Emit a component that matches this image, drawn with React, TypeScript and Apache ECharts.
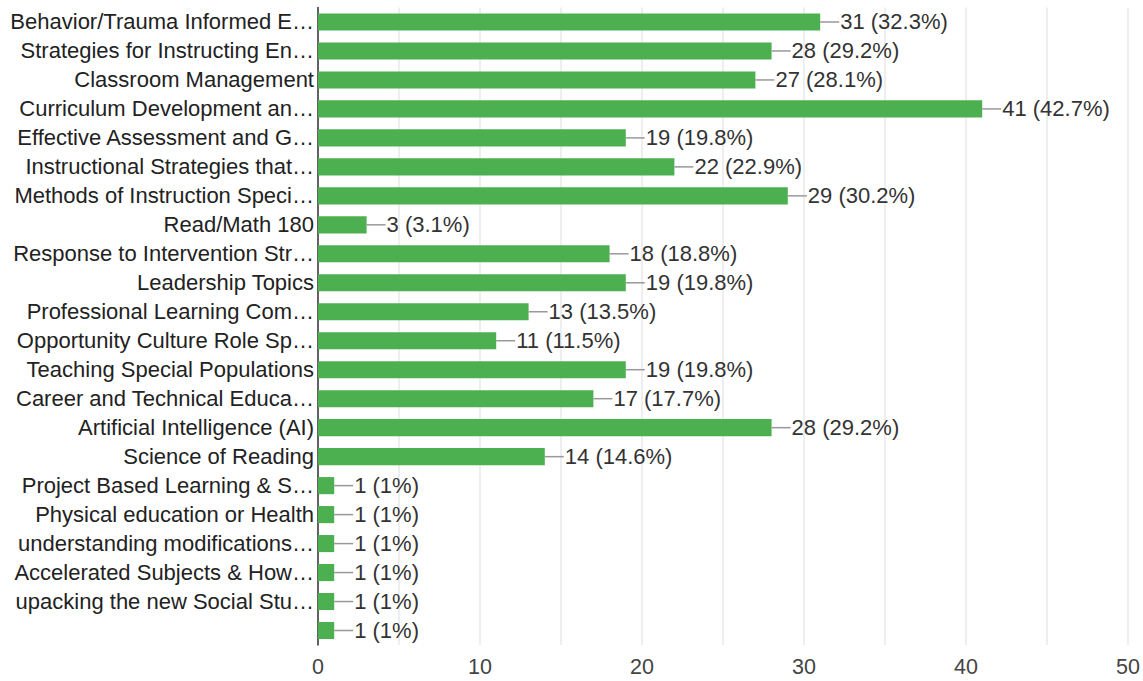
import React, { useEffect, useRef } from "react";
import * as echarts from "echarts";

const categories = [
  "Behavior/Trauma Informed E…",
  "Strategies for Instructing En…",
  "Classroom Management",
  "Curriculum Development an…",
  "Effective Assessment and G…",
  "Instructional Strategies that…",
  "Methods of Instruction Speci…",
  "Read/Math 180",
  "Response to Intervention Str…",
  "Leadership Topics",
  "Professional Learning Com…",
  "Opportunity Culture Role Sp…",
  "Teaching Special Populations",
  "Career and Technical Educa…",
  "Artificial Intelligence (AI)",
  "Science of Reading",
  "Project Based Learning & S…",
  "Physical education or Health",
  "understanding modifications…",
  "Accelerated Subjects & How…",
  "upacking the new Social Stu…",
  "",
];

const counts = [31, 28, 27, 41, 19, 22, 29, 3, 18, 19, 13, 11, 19, 17, 28, 14, 1, 1, 1, 1, 1, 1];

const percents = [
  "32.3%", "29.2%", "28.1%", "42.7%", "19.8%", "22.9%", "30.2%", "3.1%", "18.8%", "19.8%", "13.5%",
  "11.5%", "19.8%", "17.7%", "29.2%", "14.6%", "1%", "1%", "1%", "1%", "1%", "1%",
];

const xTicks = [0, 10, 20, 30, 40, 50];

export default function App() {
  const ref = useRef<HTMLDivElement>(null);
  useEffect(() => {
    if (!ref.current) return;
    const chart = echarts.init(ref.current, null, { renderer: "svg" });
    const font = "'Liberation Sans', Arial, sans-serif";
    chart.setOption({
      animation: false,
      textStyle: { fontFamily: font },
      grid: { left: 318, right: 15, top: 7.5, bottom: 36, containLabel: false },
      xAxis: {
        type: "value",
        min: 0,
        max: 50,
        interval: 5,
        axisLine: { show: false },
        axisTick: { show: false },
        splitLine: { show: true, lineStyle: { color: "#e8e8e8", width: 1.5 } },
        axisLabel: {
          color: "#444",
          fontSize: 21.5,
          fontFamily: font,
          margin: 11,
          formatter: (v: number) => (xTicks.indexOf(v) >= 0 ? String(v) : ""),
        },
      },
      yAxis: {
        type: "category",
        data: categories,
        inverse: true,
        axisLine: { show: true, lineStyle: { color: "#333", width: 1.5 } },
        axisTick: { show: false },
        axisLabel: { color: "#222", fontSize: 22, fontFamily: font, margin: 4 },
        splitLine: { show: false },
      },
      series: [
        {
          type: "bar",
          data: counts,
          barCategoryGap: "41%",
          itemStyle: { color: "#4caf50" },
          label: {
            show: true,
            position: "right",
            distance: 0,
            formatter: (p: any) => `{l|}{t|${counts[p.dataIndex]} (${percents[p.dataIndex]})}`,
            rich: {
              l: { width: 19, height: 1.5, backgroundColor: "#999", verticalAlign: "middle" },
              t: { color: "#333", fontSize: 22, fontFamily: font, padding: [0, 0, 0, 1] },
            },
          },
        },
      ],
    });
    return () => chart.dispose();
  }, []);
  return (
    <div
      ref={ref}
      style={{ position: "fixed", left: 0, top: 0, width: 1143, height: 681, background: "#fff" }}
    />
  );
}
